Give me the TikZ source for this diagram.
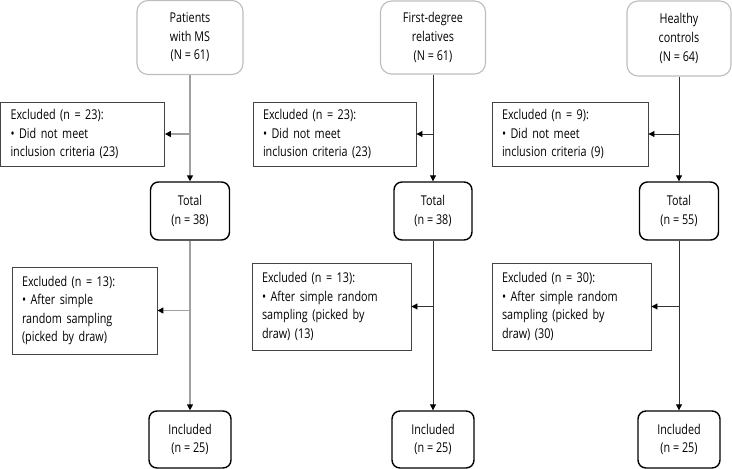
\documentclass[tikz,border=0pt]{standalone}
\usepackage{fontspec}
\setmainfont{Open Sans}[FakeStretch=0.8]
\usetikzlibrary{arrows.meta}

\definecolor{boxgray}{HTML}{BDBDBD}
\definecolor{linegray}{HTML}{A0A0A0}
\definecolor{edgegray}{HTML}{444444}

\tikzset{
  txt/.style={font=\fontsize{13.5}{18.6}\selectfont},
  groupbox/.style={txt, draw=boxgray, line width=1.1pt, rounded corners=11pt,
    align=center, inner sep=0pt},
  countbox/.style={txt, draw=black, line width=1.4pt, rounded corners=8pt,
    align=center, inner sep=0pt},
  exclbox/.style={txt, draw=edgegray, line width=0.9pt, align=left,
    inner xsep=10pt, inner ysep=0pt},
  flow/.style={-{Triangle[length=6pt,width=6pt,color=black]}, line width=0.9pt, draw=black!80},
  flowgray/.style={flow, draw=linegray, line width=1.6pt},
}

\begin{document}
\begin{tikzpicture}[x=1pt,y=1pt]
        \useasboundingbox (0,0) rectangle (732,-469);

        % Patients with MS
        \node[groupbox, minimum width=106, minimum height=74] (top1) at (190,-37.5)
          {Patients\\with MS\\(N = 61)};
        \node[exclbox, text width=144, minimum height=64] (exc1a) at (82.5,-134)
          {Excluded (n = 23):\\• Did not meet\\inclusion criteria (23)};
        \node[countbox, minimum width=79, minimum height=58] (total1) at (190,-211)
          {Total\\(n = 38)};
        \node[exclbox, text width=125, minimum height=87] (exc1b) at (84.5,-310.5)
          {Excluded (n = 13):\\• After simple\\random sampling\\(picked by draw)};
        \node[countbox, minimum width=82, minimum height=57] (inc1) at (190,-439.5)
          {Included\\(n = 25)};

        \draw[flowgray] (top1) -- (total1);
        \draw[flowgray] (top1 |- exc1a.east) -- (exc1a.east);
        \draw[flowgray] (total1) -- (inc1);
        \draw[flowgray] (total1 |- exc1b.east) -- (exc1b.east);

        % First-degree relatives
        \node[groupbox, minimum width=105, minimum height=73] (top2) at (433,-37.5)
          {First-degree\\relatives\\(N = 61)};
        \node[exclbox, text width=143, minimum height=64] (exc2a) at (334.5,-134)
          {Excluded (n = 23):\\• Did not meet\\inclusion criteria (23)};
        \node[countbox, minimum width=78, minimum height=58] (total2) at (433,-211)
          {Total\\(n = 38)};
        \node[exclbox, text width=139, minimum height=87] (exc2b) at (331.5,-306.5)
          {Excluded (n = 13):\\• After simple random\\sampling (picked by\\draw) (13)};
        \node[countbox, minimum width=82, minimum height=57] (inc2) at (433,-439.5)
          {Included\\(n = 25)};

        \draw[flow] (top2) -- (total2);
        \draw[flow] (top2 |- exc2a.east) -- (exc2a.east);
        \draw[flow] (total2) -- (inc2);
        \draw[flow] (total2 |- exc2b.east) -- (exc2b.east);

        % Healthy controls
        \node[groupbox, minimum width=104, minimum height=75] (top3) at (679,-38.5)
          {Healthy\\controls\\(N = 64)};
        \node[exclbox, text width=136, minimum height=64] (exc3a) at (570,-134)
          {Excluded (n = 9):\\• Did not meet\\inclusion criteria (9)};
        \node[countbox, minimum width=79, minimum height=58] (total3) at (679,-211)
          {Total\\(n = 55)};
        \node[exclbox, text width=139, minimum height=87] (exc3b) at (571.5,-306.5)
          {Excluded (n = 30):\\• After simple random\\sampling (picked by\\draw) (30)};
        \node[countbox, minimum width=82, minimum height=57] (inc3) at (679,-439.5)
          {Included\\(n = 25)};

        \draw[flow] (top3) -- (total3);
        \draw[flow] (top3 |- exc3a.east) -- (exc3a.east);
        \draw[flow] (total3) -- (inc3);
        \draw[flow] (total3 |- exc3b.east) -- (exc3b.east);
    \end{tikzpicture}
\end{document}
